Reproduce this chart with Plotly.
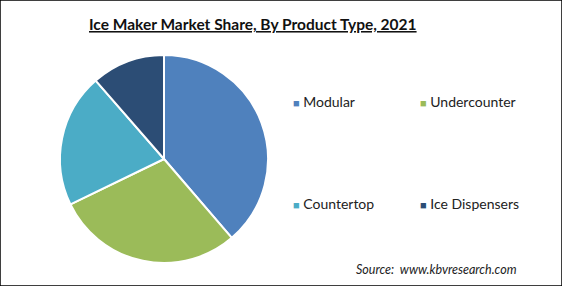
import plotly.graph_objects as go

labels = ["Modular", "Undercounter", "Countertop", "Ice Dispensers"]
shares = [38.7, 29.1, 20.8, 11.4]
colors = ["#4F81BD", "#9BBB59", "#4BACC6", "#2C4D75"]
title_text = "Ice Maker Market Share, By Product Type, 2021"
source_text = "Source:  www.kbvresearch.com"

W, H = 562, 286
FONT = "Lato"

fig = go.Figure(go.Pie(
    labels=labels, values=shares, sort=False, direction="clockwise", rotation=0,
    marker=dict(colors=colors, line=dict(color="white", width=2)),
    textinfo="none", hoverinfo="label+percent", showlegend=False,
    domain=dict(x=[60 / W, 268 / W], y=[1 - 263 / H, 1 - 55 / H]),
))

# legend laid out as 2x2 grid like the reference
leg_pos = [(291, 101), (418, 101), (291, 203), (418, 203)]
for lab, col, (x, y) in zip(labels, colors, leg_pos):
    fig.add_annotation(x=x / W, y=1 - y / H, xref="paper", yref="paper",
                       xanchor="left", yanchor="middle", showarrow=False,
                       text=f"<span style='color:{col};font-size:11px'>■</span> {lab}",
                       font=dict(family=FONT, size=14, color="#222222"))

fig.add_annotation(x=253 / W, y=1 - 24 / H, xref="paper", yref="paper",
                   xanchor="center", yanchor="middle", showarrow=False,
                   text=f"<b><u>{title_text}</u></b>",
                   font=dict(family=FONT, size=15.5, color="#111111"))
fig.add_annotation(x=354 / W, y=1 - 269 / H, xref="paper", yref="paper",
                   xanchor="left", yanchor="middle", showarrow=False,
                   text=f"<i>{source_text}</i>",
                   font=dict(family=FONT, size=12.5, color="#222222"))

fig.add_shape(type="rect", xref="paper", yref="paper", x0=0, y0=0, x1=1, y1=1,
              line=dict(color="black", width=1.5))

fig.update_layout(width=W, height=H, margin=dict(l=0, r=0, t=0, b=0),
                  paper_bgcolor="white", plot_bgcolor="white")
fig.write_html("out.html")
